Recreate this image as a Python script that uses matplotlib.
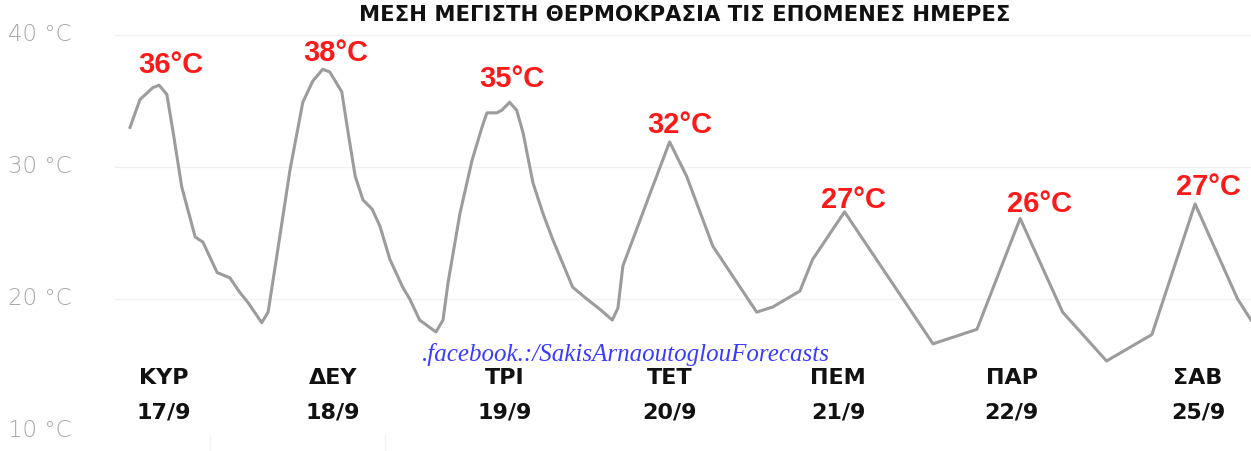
import matplotlib
matplotlib.use("Agg")
import matplotlib.pyplot as plt

# hours from start of the forecast and temperature (°C)
hours = [0.0, 1.4, 3.2, 4.1, 5.2, 6.1, 7.3, 9.2, 10.3, 12.3, 14.1, 15.5, 16.7,
         18.6, 19.5, 20.8, 22.6, 24.4, 25.8, 27.2, 28.2, 29.9, 30.8, 31.8, 32.9,
         34.2, 35.3, 36.7, 38.5, 39.5, 40.9, 43.2, 44.2, 44.9, 46.6, 48.3, 49.7,
         50.4, 51.8, 52.5, 53.6, 54.6, 55.5, 56.9, 58.3, 59.7, 62.5, 64.5, 66.4,
         68.1, 68.9, 69.6, 71.0, 73.8, 76.2, 78.6, 82.3, 88.5, 90.8, 94.6, 96.4,
         100.9, 113.4, 119.6, 125.7, 131.7, 137.9, 144.3, 150.4, 156.4, 158.3]
temps = [33.0, 35.1, 36.0, 36.2, 35.5, 32.6, 28.5, 24.7, 24.3, 22.0, 21.6, 20.5, 19.7,
         18.2, 19.0, 23.5, 29.8, 34.9, 36.5, 37.4, 37.2, 35.7, 32.6, 29.3, 27.5,
         26.8, 25.5, 23.0, 20.9, 20.0, 18.4, 17.5, 18.4, 21.2, 26.5, 30.5, 33.0,
         34.1, 34.1, 34.3, 34.9, 34.3, 32.6, 28.8, 26.5, 24.5, 20.9, 20.0, 19.2,
         18.4, 19.3, 22.5, 24.5, 28.5, 31.9, 29.3, 24.0, 19.0, 19.4, 20.6, 23.0,
         26.6, 16.6, 17.7, 26.1, 19.0, 15.3, 17.3, 27.2, 20.0, 18.4]

# daily maxima labels
peak_hours = [4.1, 27.2, 53.6, 76.2, 100.9, 125.7, 150.4]
peak_temps = [36.2, 37.4, 34.9, 31.9, 26.6, 26.1, 27.2]
peak_labels = ["36°C", "38°C", "35°C", "32°C", "27°C", "26°C", "27°C"]
peak_offsets = [(12, 20), (13, 16), (2, 23), (10, 17), (9, 12), (19, 14), (13, 17)]

# day names and dates along the bottom
day_hours = [4.7, 28.7, 52.9, 76.2, 100.0, 124.5, 150.8]
day_names = ["ΚΥΡ", "ΔΕΥ", "ΤΡΙ", "ΤΕΤ", "ΠΕΜ", "ΠΑΡ", "ΣΑΒ"]
day_dates = ["17/9", "18/9", "19/9", "20/9", "21/9", "22/9", "25/9"]

y_ticks = [10, 20, 30, 40]
title = "ΜΕΣΗ ΜΕΓΙΣΤΗ ΘΕΡΜΟΚΡΑΣΙΑ ΤΙΣ ΕΠΟΜΕΝΕΣ ΗΜΕΡΕΣ"
watermark = ".facebook.:/SakisArnaoutoglouForecasts"

W, H = 1251, 451
fig = plt.figure(figsize=(W / 100, H / 100), dpi=100)
ax = fig.add_axes([115 / W, 0, 1 - 115 / W, 1])

ax.set_xlim(-2.12, 158.3)
ax.set_ylim(8.48, 42.65)

# light horizontal grid
for t in y_ticks[1:]:
    ax.axhline(t, color="#f0f0f0", lw=1, zorder=0)
# faint tick marks at the bottom
ax.vlines([11.3, 36.0], 8.48, 9.8, color="#f3f3f3", lw=1, zorder=0)

ax.plot(hours, temps, color="#9c9c9c", lw=2.2, solid_joinstyle="round", zorder=2)

for h, t, lab, off in zip(peak_hours, peak_temps, peak_labels, peak_offsets):
    ax.annotate(lab, (h, t), xytext=off, textcoords="offset pixels",
                ha="center", va="center", color="#ff1a1a", fontsize=21,
                fontweight="bold", family="Liberation Sans")

for h, name, date in zip(day_hours, day_names, day_dates):
    ax.annotate(name, (h, 10), xytext=(0, 53), textcoords="offset pixels",
                ha="center", va="center", fontsize=16, fontweight="bold",
                family="DejaVu Sans", color="#111111")
    ax.annotate(date, (h, 10), xytext=(0, 18), textcoords="offset pixels",
                ha="center", va="center", fontsize=16, fontweight="bold",
                family="DejaVu Sans", color="#111111")

# y tick labels on the left
for t in y_ticks:
    fig.text(8 / W, ax.transData.transform((0, t))[1] / H, f"{t} °C",
             ha="left", va="center", fontsize=16.5, color="#a6a6a6",
             family="DejaVu Sans", fontweight="light")

fig.text(685 / W, 1 - 15 / H, title, ha="center", va="center", fontsize=15.2,
         fontweight="bold", family="DejaVu Sans", color="#111111")

fig.text(626 / W, 1 - 355 / H, watermark, ha="center", va="center",
         fontsize=18, style="italic", family="Liberation Serif", color="#3b3bff")

ax.axis("off")
fig.savefig("out.png", dpi=100)
